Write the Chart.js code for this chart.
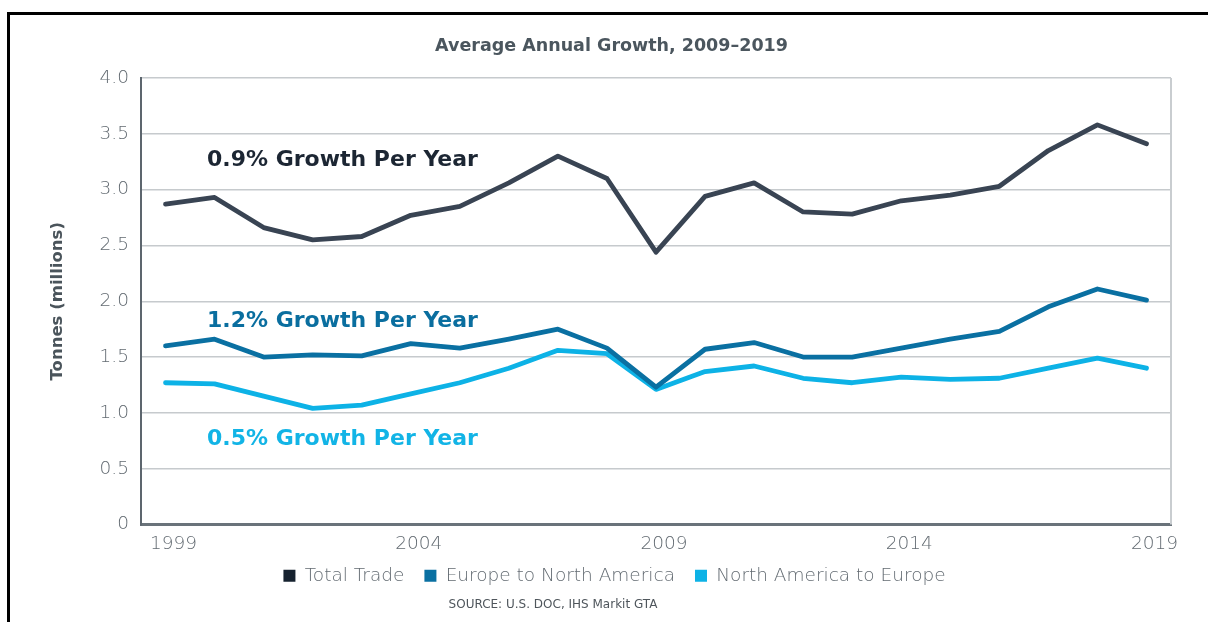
<!DOCTYPE html>
<html>
<head>
<meta charset="utf-8">
<script src="https://cdn.jsdelivr.net/npm/chart.js@4"></script>
<style>
  html, body { margin: 0; padding: 0; background: #fff; }
  #wrap { position: relative; width: 1208px; height: 622px; overflow: hidden; }
  #frame { position: absolute; left: 7px; top: 12px; width: 1300px; height: 700px;
           border-top: 3px solid #000; border-left: 3px solid #000; pointer-events: none; }
  canvas { position: absolute; left: 0; top: 0; }
</style>
</head>
<body>
<div id="wrap">
  <canvas id="chart" width="1208" height="622"></canvas>
  <div id="frame"></div>
</div>
<script>
// chart data
const years = ["1999", "2000", "2001", "2002", "2003", "2004", "2005", "2006", "2007", "2008",
               "2009", "2010", "2011", "2012", "2013", "2014", "2015", "2016", "2017", "2018", "2019"];
const totalTrade = [2.87, 2.93, 2.66, 2.55, 2.58, 2.77, 2.85, 3.06, 3.30, 3.10,
                    2.44, 2.94, 3.06, 2.80, 2.78, 2.90, 2.95, 3.03, 3.35, 3.58, 3.41];
const europeToNorthAmerica = [1.60, 1.66, 1.50, 1.52, 1.51, 1.62, 1.58, 1.66, 1.75, 1.58,
                              1.23, 1.57, 1.63, 1.50, 1.50, 1.58, 1.66, 1.73, 1.95, 2.11, 2.01];
const northAmericaToEurope = [1.27, 1.26, 1.15, 1.04, 1.07, 1.17, 1.27, 1.40, 1.56, 1.53,
                              1.21, 1.37, 1.42, 1.31, 1.27, 1.32, 1.30, 1.31, 1.40, 1.49, 1.40];
const growthNotes = ["0.9% Growth Per Year", "1.2% Growth Per Year", "0.5% Growth Per Year"];
const sourceNote = "SOURCE: U.S. DOC, IHS Markit GTA";

const FONT = "'DejaVu Sans', Verdana, sans-serif";
Chart.defaults.font.family = FONT;

const colors = ["#394453", "#0a70a2", "#0db2e6"];
const legendColors = ["#16222f", "#0a70a2", "#0db2e6"];
const textGrey = "#636b72";

// annotations + source line + right border of plot
const extras = {
    id: "extras",
    afterLayout(chart) {
        // title and legend sit right of centre in the reference, legend a bit higher
        const lg = chart.legend;
        lg.left += 19; lg.right += 19;
        lg.top -= 14; lg.bottom -= 14;
        chart.titleBlock.left += 16; chart.titleBlock.right += 16;
    },
    afterDraw(chart) {
        const { ctx, chartArea, scales } = chart;
        ctx.save();
        // right edge line
        ctx.strokeStyle = "#c9cdd0";
        ctx.lineWidth = 2;
        ctx.beginPath();
        ctx.moveTo(chartArea.right, chartArea.top);
        ctx.lineTo(chartArea.right, chartArea.bottom);
        ctx.stroke();

        const noteValues = [3.26, 1.82, 0.76];
        const noteColors = ["#1c2633", "#0a6e9f", "#12b4e6"];
        ctx.font = "bold 22px " + FONT;
        ctx.textBaseline = "middle";
        ctx.textAlign = "left";
        growthNotes.forEach((t, i) => {
            ctx.fillStyle = noteColors[i];
            ctx.fillText(t, chartArea.left + 66, scales.y.getPixelForValue(noteValues[i]));
        });

        ctx.font = "12px " + FONT;
        ctx.fillStyle = "#4f565c";
        ctx.textAlign = "center";
        ctx.fillText(sourceNote, 553, 605);
        ctx.restore();
    }
};

new Chart(document.getElementById("chart"), {
    type: "line",
    data: {
        labels: years,
        datasets: [
            { label: "Total Trade", data: totalTrade },
            { label: "Europe to North America", data: europeToNorthAmerica },
            { label: "North America to Europe", data: northAmericaToEurope }
        ].map((d, i) => Object.assign(d, {
            borderColor: colors[i],
            backgroundColor: legendColors[i],
            borderWidth: 4.8,
            borderCapStyle: "round",
            borderJoinStyle: "round",
            pointRadius: 0,
            tension: 0
        }))
    },
    options: {
        responsive: false,
        animation: false,
        layout: { padding: { top: 36, left: 20, right: 37, bottom: 13 } },
        plugins: {
            title: {
                display: true,
                text: "Average Annual Growth, 2009–2019",
                color: "#4b565e",
                font: { size: 17.5, weight: "bold" },
                padding: { top: 0, bottom: 21 }
            },
            legend: {
                position: "bottom",
                labels: {
                    color: textGrey,
                    font: { size: 18.5, weight: 200 },
                    boxWidth: 12,
                    boxHeight: 12,
                    padding: 20,
                    generateLabels(chart) {
                        return chart.data.datasets.map((ds, i) => ({
                            text: ds.label,
                            fillStyle: legendColors[i],
                            strokeStyle: legendColors[i],
                            fontColor: textGrey,
                            lineWidth: 0,
                            datasetIndex: i
                        }));
                    }
                }
            },
            tooltip: { enabled: false }
        },
        scales: {
            x: {
                offset: true,
                grid: { display: false, drawTicks: false },
                border: { color: "#6a737a", width: 3 },
                ticks: {
                    color: textGrey,
                    font: { size: 18.5, weight: 200 },
                    padding: 9,
                    labelOffset: 8,
                    autoSkip: false,
                    maxRotation: 0,
                    callback(v, i) { return i % 5 === 0 ? years[i] : ""; }
                },
                afterFit(scale) { scale.height = 36; }
            },
            y: {
                min: 0,
                max: 4,
                grid: { color: "#c6cacd", lineWidth: 1.5, drawTicks: false },
                border: { color: "#5d666e", width: 2 },
                ticks: {
                    stepSize: 0.5,
                    color: textGrey,
                    font: { size: 18.5, weight: 200 },
                    padding: 12,
                    callback(v) { return v === 0 ? "0" : v.toFixed(1); }
                },
                title: {
                    display: true,
                    text: "Tonnes (millions)",
                    color: "#4a545b",
                    font: { size: 16.5, weight: "bold" },
                    padding: { top: 28, bottom: 0 }
                },
                afterFit(scale) { scale.width = 121; }
            }
        }
    },
    plugins: [extras]
});
</script>
</body>
</html>
